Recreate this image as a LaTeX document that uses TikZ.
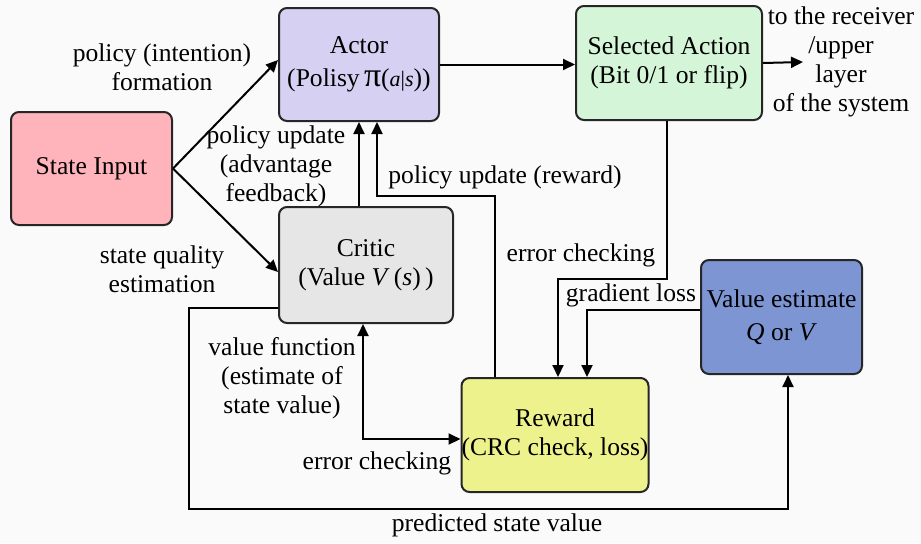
\documentclass[tikz,border=0pt]{standalone}
\usepackage{fontspec}
\setmainfont{Liberation Serif}
\usetikzlibrary{arrows.meta,calc}
\definecolor{bgc}{rgb}{0.98,0.98,0.98}
\definecolor{sic}{HTML}{FFB3BA}
\definecolor{acc}{HTML}{D6D0F2}
\definecolor{sac}{HTML}{D5F5D9}
\definecolor{crc}{HTML}{E6E6E6}
\definecolor{vec}{HTML}{7D95D3}
\definecolor{rwc}{HTML}{EEF28C}
\begin{document}
\begin{tikzpicture}[x=0.5pt,y=-0.5pt,
  every node/.style={font=\fontsize{12.8}{14.5}\selectfont, align=center, inner sep=0pt},
  box/.style={draw=black!85, line width=1pt, rounded corners=4pt},
  arr/.style={line width=1pt, -{Triangle[length=6pt,width=5.5pt]}},
  arrtwo/.style={line width=1pt, {Triangle[length=6pt,width=5.5pt]}-{Triangle[length=6pt,width=5.5pt]}}]
\fill[bgc] (0,0) rectangle (921,543);
\useasboundingbox (0,0) rectangle (921,543);

\node[box, fill=sic, minimum width=80.5pt, minimum height=56.5pt] (si) at (91.5,168.5) {State Input};
\node[box, fill=acc, minimum width=80pt, minimum height=56.5pt] (actor) at (359,64.5)
  {Actor\\[2pt](Polisy\,{\fontsize{17}{14.5}\selectfont π}({\fontsize{11}{12}\selectfont\textit{a}|\textit{s}}))};
\node[box, fill=sac, minimum width=93pt, minimum height=57pt] (sel) at (669,63) {Selected Action\\(Bit 0/1 or flip)};
\node[box, fill=crc, minimum width=87pt, minimum height=58pt] (critic) at (366,265) {Critic\\(Value \textit{V}\,(\textit{s})\,)};
\node[box, fill=vec, minimum width=80.5pt, minimum height=57pt] (ve) at (781.5,317) {Value estimate\\[2pt]\textit{Q} or \textit{V}};
\node[box, fill=rwc, minimum width=93pt, minimum height=57pt] (rew) at (555,435) {Reward\\(CRC check, loss)};

\coordinate (out) at (803,62);

% connectors
\draw[arr] (si.east) -- ($(actor.west)+(0,-4.5)$);
\draw[arr] (si.east) -- ($(critic.west)+(0,7)$);
\draw[arr] (critic.north -| actor.south) -- (actor.south);
\draw[arr] ($(rew.north)+(-60,0)$) -- ++(0,-181) -| ($(actor.south)+(18,0)$);
\draw[arr] (actor.east) -- (actor.east -| sel.west);
\draw[arr] (sel.east) -- (out);
\draw[arr] ($(sel.south)+(-2,0)$) -- ++(0,158) -| ($(rew.north)+(3,0)$);
\draw[arr] ($(ve.west)+(0,-7)$) -| ($(rew.north)+(32,0)$);
\draw[arrtwo] ($(critic.south)+(-3,0)$) |- ($(rew.west)+(0,4)$);
\draw[arr] ($(critic.west)+(0,43)$) -- ++(-89,0) -- ++(0,201) -| ($(ve.south)+(6.5,0)$);

% labels
\node (l1) at (162,67) {policy (intention)\\formation};
\node (l2) at (276,166) {policy update\\(advantage\\feedback)};
\node (l3) at (505,177) {policy update (reward)};
\node (l4) at (162,269) {state quality\\estimation};
\node (l5) at (282,378) {value function\\(estimate of\\state value)};
\node (l6) at (377,463) {error checking};
\node (l7) at (581,255) {error checking};
\node (l8) at (631,295) {gradient loss};
\node (l9) at (497,525) {predicted state value};
\node (l10) at (841,62) {to the receiver\\/upper\\layer\\of the system};
\end{tikzpicture}
\end{document}
